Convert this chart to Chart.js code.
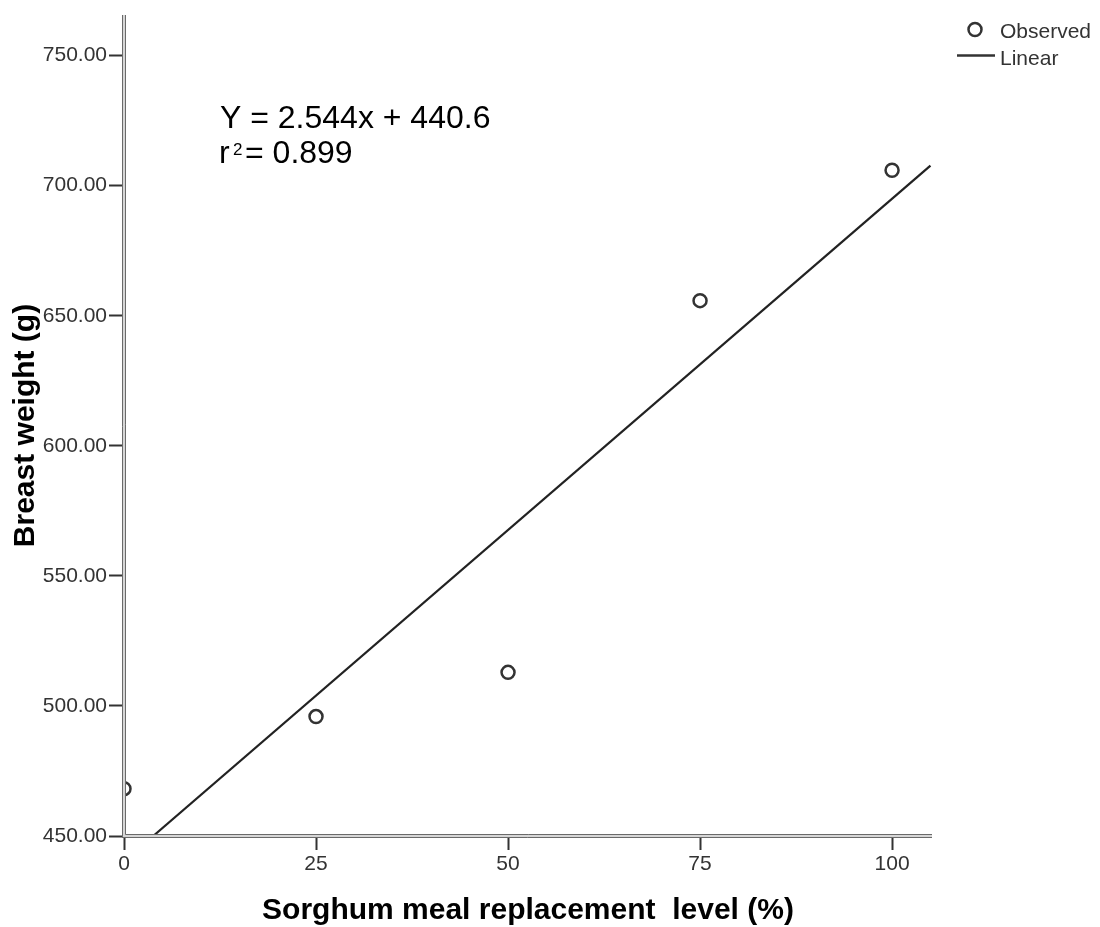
<!DOCTYPE html>
<html>
<head>
<meta charset="utf-8">
<script src="https://cdn.jsdelivr.net/npm/chart.js@4/dist/chart.umd.min.js"></script>
<style>
  body { margin: 0; background: #fff; }
  #wrap { width: 1100px; height: 927px; position: relative; }
</style>
</head>
<body>
<div id="wrap"><canvas id="breastChart"></canvas></div>
<script>
// data
const levels = [0, 25, 50, 75, 100];
const breastWeight = [468.2, 495.9, 512.9, 655.8, 705.9];
const fitLevels = [3.8, 105];
const fitWeight = [450, 707.7];
const xTicks = [0, 25, 50, 75, 100];
const yTicks = [450, 500, 550, 600, 650, 700, 750];
const equationText = 'Y = 2.544x + 440.6';
const r2Value = '0.899';

const FONT = '"Liberation Sans", Arial, sans-serif';
const INK = '#222';

// SPSS-style double axis lines
const doubleAxis = {
  id: 'doubleAxis',
  afterDatasetsDraw(chart) {
    const { ctx, chartArea: a } = chart;
    ctx.save();
    ctx.fillStyle = '#d6d6d6';
    ctx.fillRect(a.left - 2, a.top, 4, a.bottom - a.top + 2);
    ctx.fillRect(a.left - 2, a.bottom - 2, a.right - a.left + 2, 4);
    ctx.strokeStyle = '#6a6a6a';
    ctx.lineWidth = 1;
    ctx.beginPath();
    ctx.moveTo(a.left - 1.5, a.top); ctx.lineTo(a.left - 1.5, a.bottom + 2);
    ctx.moveTo(a.left + 1.5, a.top); ctx.lineTo(a.left + 1.5, a.bottom - 1.5);
    ctx.moveTo(a.left + 1.5, a.bottom - 1.5); ctx.lineTo(a.right, a.bottom - 1.5);
    ctx.moveTo(a.left - 1.5, a.bottom + 1.5); ctx.lineTo(a.right, a.bottom + 1.5);
    ctx.stroke();
    ctx.restore();
  }
};

// equation, r² and legend
const notes = {
  id: 'notes',
  afterDraw(chart) {
    const { ctx } = chart;
    ctx.save();
    ctx.fillStyle = '#000';
    ctx.textBaseline = 'alphabetic';
    ctx.font = '32px ' + FONT;
    ctx.fillText(equationText, 220, 128);
    ctx.fillText('r', 219, 163);
    ctx.font = '17px ' + FONT;
    ctx.fillText('2', 233, 155);
    ctx.font = '32px ' + FONT;
    ctx.fillText('= ' + r2Value, 245, 163);

    // legend
    const ds = chart.data.datasets;
    ctx.strokeStyle = '#333';
    ctx.lineWidth = 2.5;
    ctx.beginPath();
    ctx.arc(975, 29.5, 6.5, 0, Math.PI * 2);
    ctx.stroke();
    ctx.beginPath();
    ctx.moveTo(957, 55.5); ctx.lineTo(995, 55.5);
    ctx.stroke();
    ctx.fillStyle = '#333';
    ctx.font = '21px ' + FONT;
    ctx.fillText(ds[0].label, 1000, 38);
    ctx.fillText(ds[1].label, 1000, 65);
    ctx.restore();
  }
};

const ctx = document.getElementById('breastChart').getContext('2d');
new Chart(ctx, {
  type: 'scatter',
  data: {
    datasets: [{
      label: 'Observed',
      data: levels.map((x, i) => ({ x, y: breastWeight[i] })),
      pointRadius: 6.5,
      pointBorderWidth: 2.5,
      pointBorderColor: '#333',
      pointBackgroundColor: 'rgba(255,255,255,0)',
      clip: 0
    }, {
      label: 'Linear',
      type: 'line',
      data: fitLevels.map((x, i) => ({ x, y: fitWeight[i] })),
      borderColor: INK,
      borderWidth: 2.2,
      pointRadius: 0,
      fill: false,
      clip: 0
    }]
  },
  options: {
    responsive: true,
    maintainAspectRatio: false,
    animation: false,
    layout: { padding: { top: 15, right: 168, left: 0, bottom: 0 } },
    plugins: { legend: { display: false }, tooltip: { enabled: false } },
    scales: {
      x: {
        type: 'linear',
        min: 0,
        max: 105.2,
        afterBuildTicks: s => { s.ticks = xTicks.map(v => ({ value: v })); },
        afterFit: s => { s.height = 91; },
        grid: { drawOnChartArea: false, tickLength: 14, tickWidth: 2, tickColor: '#333' },
        border: { display: false },
        ticks: { color: '#333', font: { family: FONT, size: 21 }, padding: 2 },
        title: {
          display: true,
          text: 'Sorghum meal replacement  level (%)',
          color: '#000',
          font: { family: FONT, size: 30, weight: 'bold', lineHeight: 1 },
          padding: { bottom: 1 }
        }
      },
      y: {
        type: 'linear',
        min: 450,
        max: 765.6,
        afterBuildTicks: s => { s.ticks = yTicks.map(v => ({ value: v })); },
        afterFit: s => { s.width = 124; },
        grid: { drawOnChartArea: false, tickLength: 15, tickWidth: 2, tickColor: '#333' },
        border: { display: false },
        ticks: {
          color: '#333',
          font: { family: FONT, size: 21 },
          padding: 2,
          callback: v => v.toFixed(2)
        },
        title: {
          display: true,
          text: 'Breast weight (g)',
          color: '#000',
          font: { family: FONT, size: 30, weight: 'bold', lineHeight: 1 },
          padding: { top: 11 }
        }
      }
    }
  },
  plugins: [doubleAxis, notes]
});
</script>
</body>
</html>
